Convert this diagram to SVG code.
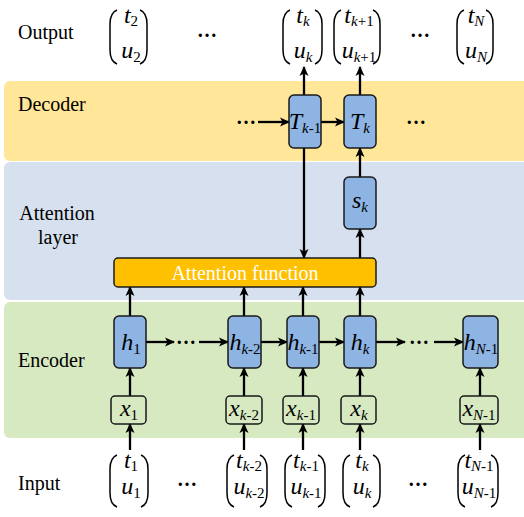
<svg xmlns="http://www.w3.org/2000/svg" width="524" height="517" viewBox="0 0 524 517" font-family="Liberation Serif, Times New Roman, Tinos, DejaVu Serif, serif">
<style>
.lbl{font-size:20px;fill:#000}
.m{font-style:italic;font-size:24px;fill:#000}
.s{font-size:15px}
.n{font-style:normal}
.dots{font-weight:bold;font-size:20px;fill:#000}
.node{fill:#8EB4E3;stroke:#1a1a1a;stroke-width:1.5}
.xb{fill:#D6E9C1;stroke:#1a1a1a;stroke-width:1.5}
.br{fill:none;stroke:#000;stroke-width:1.5}
#connectors line{stroke:#000;stroke-width:2.3;marker-end:url(#ah)}
</style>
<defs>
<marker id="ah" viewBox="0 0 10 10" refX="9" refY="5" markerWidth="10" markerHeight="10" markerUnits="userSpaceOnUse" orient="auto">
<path d="M0,0.5 L10,5 L0,9.5 L2.5,5 z" fill="#000"/>
</marker>
</defs>

<g id="bands">
<rect x="4" y="81" width="530" height="80" rx="6" fill="#FFE699"/>
<rect x="4" y="162" width="530" height="138" rx="6" fill="#D6E0EE"/>
<rect x="4" y="302" width="530" height="136" rx="6" fill="#D6E9C1"/>
</g>

<g id="labels">
<text class="lbl" x="18" y="39">Output</text>
<text class="lbl" x="18" y="111">Decoder</text>
<text class="lbl" x="57" y="220" text-anchor="middle">Attention</text>
<text class="lbl" x="58" y="244" text-anchor="middle">layer</text>
<text class="lbl" x="18" y="367">Encoder</text>
<text class="lbl" x="18" y="490">Input</text>
</g>

<g id="connectors">
<line x1="258" y1="122" x2="289" y2="122"/>
<line x1="321" y1="122" x2="344" y2="122"/>
<line x1="304" y1="95" x2="304" y2="67"/>
<line x1="360" y1="95" x2="360" y2="67"/>
<line x1="304" y1="148" x2="304" y2="258"/>
<line x1="360" y1="258" x2="360" y2="229"/>
<line x1="360" y1="177" x2="360" y2="148"/>
<line x1="146" y1="342" x2="174" y2="342"/>
<line x1="199" y1="342" x2="228" y2="342"/>
<line x1="261" y1="342" x2="287" y2="342"/>
<line x1="319" y1="342" x2="344" y2="342"/>
<line x1="376" y1="342" x2="405" y2="342"/>
<line x1="434" y1="342" x2="463" y2="342"/>
<line x1="130" y1="396" x2="130" y2="368"/>
<line x1="244" y1="396" x2="244" y2="368"/>
<line x1="303" y1="396" x2="303" y2="368"/>
<line x1="360" y1="396" x2="360" y2="368"/>
<line x1="480" y1="396" x2="480" y2="368"/>
<line x1="130" y1="316" x2="130" y2="287"/>
<line x1="244" y1="316" x2="244" y2="287"/>
<line x1="303" y1="316" x2="303" y2="287"/>
<line x1="360" y1="316" x2="360" y2="287"/>
<line x1="130" y1="450" x2="130" y2="424"/>
<line x1="244" y1="450" x2="244" y2="424"/>
<line x1="303" y1="450" x2="303" y2="424"/>
<line x1="360" y1="450" x2="360" y2="424"/>
<line x1="480" y1="450" x2="480" y2="424"/>
</g>

<g id="ellipses">
<text class="dots" x="207" y="37" text-anchor="middle">…</text>
<text class="dots" x="420" y="37" text-anchor="middle">…</text>
<text class="dots" x="246" y="124" text-anchor="middle">…</text>
<text class="dots" x="416" y="124" text-anchor="middle">…</text>
<text class="dots" x="186" y="344" text-anchor="middle">…</text>
<text class="dots" x="419" y="344" text-anchor="middle">…</text>
<text class="dots" x="187" y="486" text-anchor="middle">…</text>
<text class="dots" x="418" y="486" text-anchor="middle">…</text>
</g>

<g id="T_km1"><rect class="node" x="289" y="95" width="32" height="53" rx="5"/><text class="m" x="305" y="129" text-anchor="middle">T<tspan class="s" dy="4">k<tspan class="n">-1</tspan></tspan></text></g>
<g id="T_k"><rect class="node" x="344" y="95" width="32" height="53" rx="5"/><text class="m" x="360" y="129" text-anchor="middle">T<tspan class="s" dy="4">k</tspan></text></g>
<g id="s_k"><rect class="node" x="344" y="177" width="32" height="52" rx="5"/><text class="m" x="360" y="208" text-anchor="middle">s<tspan class="s" dy="4">k</tspan></text></g>
<g id="attention"><rect x="114" y="258" width="262" height="29" rx="4" fill="#FFC000" stroke="#1a1a1a" stroke-width="1.5"/><text class="lbl" x="245" y="280" text-anchor="middle" style="fill:#fff">Attention function</text></g>

<g id="h_1"><rect class="node" x="114" y="316" width="32" height="52" rx="5"/><text class="m" x="131" y="350" text-anchor="middle">h<tspan class="s n" dy="4">1</tspan></text></g>
<g id="h_km2"><rect class="node" x="228" y="316" width="33" height="52" rx="5"/><text class="m" x="245" y="350" text-anchor="middle">h<tspan class="s" dy="4">k<tspan class="n">-2</tspan></tspan></text></g>
<g id="h_km1"><rect class="node" x="287" y="316" width="32" height="52" rx="5"/><text class="m" x="303" y="350" text-anchor="middle">h<tspan class="s" dy="4">k<tspan class="n">-1</tspan></tspan></text></g>
<g id="h_k"><rect class="node" x="344" y="316" width="32" height="52" rx="5"/><text class="m" x="360" y="350" text-anchor="middle">h<tspan class="s" dy="4">k</tspan></text></g>
<g id="h_Nm1"><rect class="node" x="463" y="316" width="35" height="52" rx="5"/><text class="m" x="481" y="350" text-anchor="middle">h<tspan class="s" dy="4">N<tspan class="n">-1</tspan></tspan></text></g>

<g id="x_1"><rect class="xb" x="111" y="396" width="35" height="28" rx="4"/><text class="m" x="129" y="416" text-anchor="middle">x<tspan class="s n" dy="4">1</tspan></text></g>
<g id="x_km2"><rect class="xb" x="226" y="396" width="36" height="28" rx="4"/><text class="m" x="244" y="416" text-anchor="middle">x<tspan class="s" dy="4">k<tspan class="n">-2</tspan></tspan></text></g>
<g id="x_km1"><rect class="xb" x="283" y="396" width="36" height="28" rx="4"/><text class="m" x="301" y="416" text-anchor="middle">x<tspan class="s" dy="4">k<tspan class="n">-1</tspan></tspan></text></g>
<g id="x_k"><rect class="xb" x="341" y="396" width="35" height="28" rx="4"/><text class="m" x="359" y="416" text-anchor="middle">x<tspan class="s" dy="4">k</tspan></text></g>
<g id="x_Nm1"><rect class="xb" x="460" y="396" width="38" height="28" rx="4"/><text class="m" x="479" y="416" text-anchor="middle">x<tspan class="s" dy="4">N<tspan class="n">-1</tspan></tspan></text></g>

<g id="out_2">
<path class="br" d="M117,10 C112,12 110,16 110,24 V50 C110,58 112,62 117,64"/>
<path class="br" d="M140,10 C145,12 147,16 147,24 V50 C147,58 145,62 140,64"/>
<text class="m" x="131" y="23" text-anchor="middle">t<tspan class="s n" dy="3">2</tspan></text>
<text class="m" x="131" y="58" text-anchor="middle">u<tspan class="s n" dy="4">2</tspan></text>
</g>
<g id="out_k">
<path class="br" d="M290,10 C285,12 283,16 283,24 V50 C283,58 285,62 290,64"/>
<path class="br" d="M315,10 C320,12 322,16 322,24 V50 C322,58 320,62 315,64"/>
<text class="m" x="303" y="23" text-anchor="middle">t<tspan class="s" dy="3">k</tspan></text>
<text class="m" x="303" y="58" text-anchor="middle">u<tspan class="s" dy="4">k</tspan></text>
</g>
<g id="out_kp1">
<path class="br" d="M341,10 C336,12 334,16 334,24 V50 C334,58 336,62 341,64"/>
<path class="br" d="M373,10 C378,12 380,16 380,24 V50 C380,58 378,62 373,64"/>
<text class="m" x="359" y="23" text-anchor="middle">t<tspan class="s" dy="3">k<tspan class="n">+1</tspan></tspan></text>
<text class="m" x="359" y="58" text-anchor="middle">u<tspan class="s" dy="4">k<tspan class="n">+1</tspan></tspan></text>
</g>
<g id="out_N">
<path class="br" d="M464,10 C459,12 457,16 457,24 V50 C457,58 459,62 464,64"/>
<path class="br" d="M486,10 C491,12 493,16 493,24 V50 C493,58 491,62 486,64"/>
<text class="m" x="476" y="23" text-anchor="middle">t<tspan class="s" dy="3">N</tspan></text>
<text class="m" x="476" y="58" text-anchor="middle">u<tspan class="s" dy="4">N</tspan></text>
</g>

<g id="in_1">
<path class="br" d="M117,455 C112,457 110,461 110,469 V493 C110,501 112,505 117,507"/>
<path class="br" d="M141,455 C146,457 148,461 148,469 V493 C148,501 146,505 141,507"/>
<text class="m" x="131" y="468" text-anchor="middle">t<tspan class="s n" dy="3">1</tspan></text>
<text class="m" x="131" y="494" text-anchor="middle">u<tspan class="s n" dy="4">1</tspan></text>
</g>
<g id="in_km2">
<path class="br" d="M234,455 C229,457 227,461 227,469 V493 C227,501 229,505 234,507"/>
<path class="br" d="M260,455 C265,457 267,461 267,469 V493 C267,501 265,505 260,507"/>
<text class="m" x="249" y="468" text-anchor="middle">t<tspan class="s" dy="3">k<tspan class="n">-2</tspan></tspan></text>
<text class="m" x="249" y="494" text-anchor="middle">u<tspan class="s" dy="4">k<tspan class="n">-2</tspan></tspan></text>
</g>
<g id="in_km1">
<path class="br" d="M292,455 C287,457 285,461 285,469 V493 C285,501 287,505 292,507"/>
<path class="br" d="M318,455 C323,457 325,461 325,469 V493 C325,501 323,505 318,507"/>
<text class="m" x="306" y="468" text-anchor="middle">t<tspan class="s" dy="3">k<tspan class="n">-1</tspan></tspan></text>
<text class="m" x="306" y="494" text-anchor="middle">u<tspan class="s" dy="4">k<tspan class="n">-1</tspan></tspan></text>
</g>
<g id="in_k">
<path class="br" d="M350,455 C345,457 343,461 343,469 V493 C343,501 345,505 350,507"/>
<path class="br" d="M373,455 C378,457 380,461 380,469 V493 C380,501 378,505 373,507"/>
<text class="m" x="362" y="468" text-anchor="middle">t<tspan class="s" dy="3">k</tspan></text>
<text class="m" x="362" y="494" text-anchor="middle">u<tspan class="s" dy="4">k</tspan></text>
</g>
<g id="in_Nm1">
<path class="br" d="M465,455 C460,457 458,461 458,469 V493 C458,501 460,505 465,507"/>
<path class="br" d="M491,455 C496,457 498,461 498,469 V493 C498,501 496,505 491,507"/>
<text class="m" x="479" y="468" text-anchor="middle">t<tspan class="s" dy="3">N<tspan class="n">-1</tspan></tspan></text>
<text class="m" x="479" y="494" text-anchor="middle">u<tspan class="s" dy="4">N<tspan class="n">-1</tspan></tspan></text>
</g>
</svg>
